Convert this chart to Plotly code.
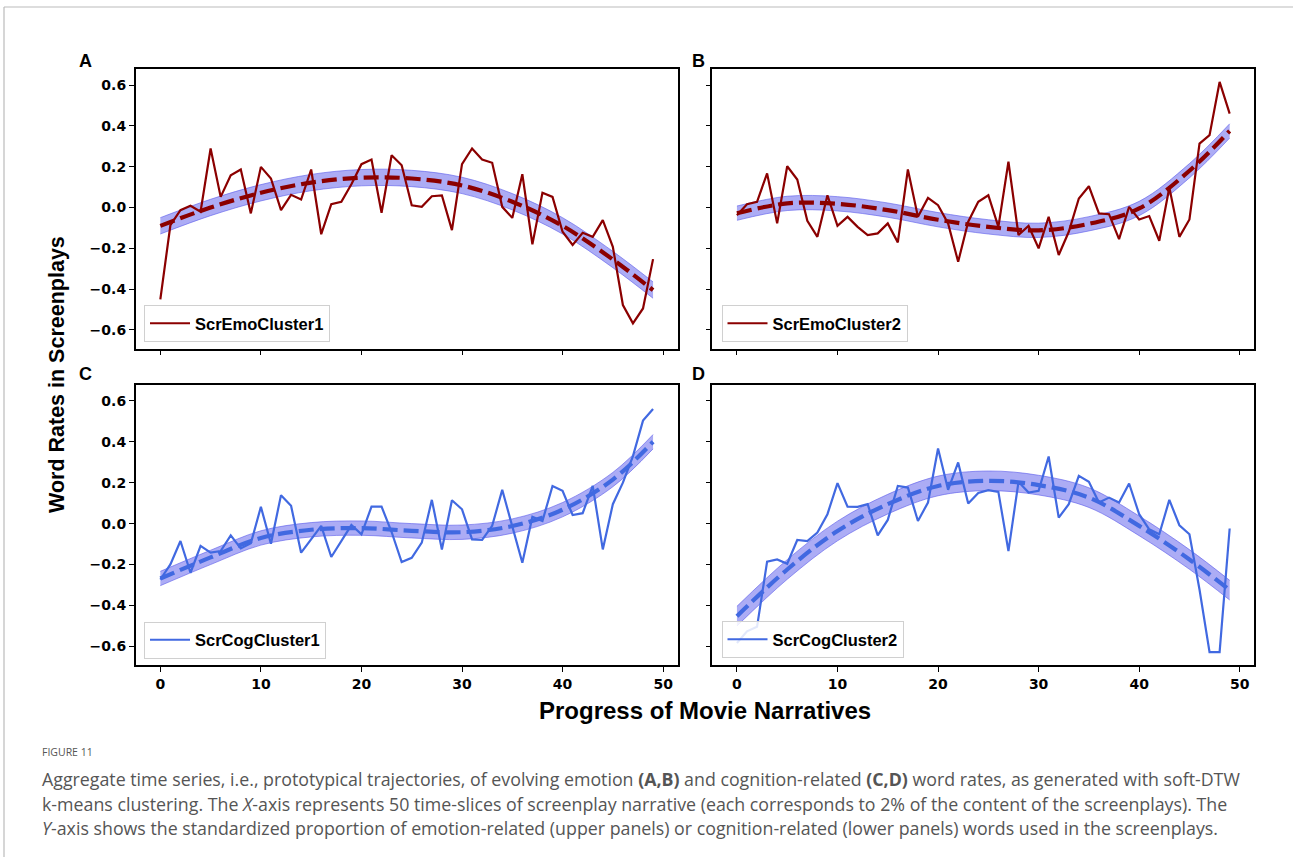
import plotly.graph_objects as go

W, H = 1293, 857

# ---------------- data ----------------
x_idx = list(range(50))
fit_x = [0, 5, 10, 15, 20, 25, 30, 35, 40, 45, 49]
x_ticks = [0, 10, 20, 30, 40, 50]
y_ticks = [-0.6, -0.4, -0.2, 0.0, 0.2, 0.4, 0.6]

emo1 = [-0.45, -0.087, -0.013, 0.008, -0.021, 0.289, 0.052, 0.158, 0.186, -0.029,
        0.199, 0.142, -0.013, 0.062, 0.039, 0.186, -0.131, 0.016, 0.028, 0.114,
        0.212, 0.235, -0.026, 0.256, 0.207, 0.011, 0.003, 0.055, 0.059, -0.111,
        0.212, 0.289, 0.235, 0.219, 0.003, -0.051, 0.163, -0.181, 0.072, 0.052,
        -0.119, -0.184, -0.124, -0.144, -0.062, -0.193, -0.478, -0.568, -0.495, -0.253]
emo1_fit = [-0.09, 0.0, 0.072, 0.122, 0.146, 0.142, 0.108, 0.028, -0.09, -0.255, -0.405]

emo2 = [-0.038, 0.016, 0.028, 0.167, -0.078, 0.202, 0.137, -0.065, -0.144, 0.060,
        -0.090, -0.046, -0.095, -0.135, -0.127, -0.078, -0.171, 0.186, -0.046, 0.047,
        0.011, -0.078, -0.266, -0.070, 0.028, 0.060, -0.095, 0.224, -0.135, -0.090,
        -0.200, -0.046, -0.233, -0.119, 0.044, 0.104, -0.029, -0.033, -0.155, 0.003,
        -0.059, -0.042, -0.163, 0.098, -0.144, -0.059, 0.313, 0.354, 0.615, 0.460]
emo2_fit = [-0.028, 0.02, 0.018, -0.013, -0.06, -0.095, -0.112, -0.08, -0.005, 0.18, 0.375]

cog1 = [-0.273, -0.199, -0.085, -0.240, -0.109, -0.142, -0.134, -0.057, -0.121, -0.096,
        0.082, -0.098, 0.139, 0.087, -0.142, -0.077, -0.011, -0.163, -0.085, -0.007,
        -0.052, 0.083, 0.083, -0.041, -0.188, -0.167, -0.093, 0.116, -0.126, 0.114,
        0.070, -0.077, -0.080, -0.011, 0.165, -0.011, -0.191, 0.033, 0.013, 0.184,
        0.160, 0.042, 0.051, 0.184, -0.126, 0.095, 0.200, 0.330, 0.503, 0.560]
cog1_fit = [-0.268, -0.165, -0.07, -0.03, -0.022, -0.035, -0.042, -0.012, 0.068, 0.215, 0.40]

cog2 = [-0.583, -0.526, -0.504, -0.186, -0.175, -0.196, -0.080, -0.085, -0.044, 0.046,
        0.198, 0.083, 0.082, 0.095, -0.057, 0.018, 0.184, 0.176, 0.013, 0.103,
        0.367, 0.165, 0.299, 0.098, 0.150, 0.163, 0.155, -0.134, 0.204, 0.152,
        0.160, 0.328, 0.029, 0.095, 0.233, 0.204, 0.103, 0.127, 0.103, 0.196,
        0.046, -0.028, -0.052, 0.116, -0.008, -0.052, -0.322, -0.628, -0.628, -0.024]
cog2_fit = [-0.452, -0.224, -0.036, 0.095, 0.184, 0.209, 0.188, 0.127, -0.011, -0.175, -0.325]

band_half = {"A": 0.04, "B": 0.035, "C": 0.035, "D": 0.048}
series_names = {"A": "ScrEmoCluster1", "B": "ScrEmoCluster2",
                "C": "ScrCogCluster1", "D": "ScrCogCluster2"}

RED = "#8b0000"
BLUE = "#4169e1"
BAND = "rgba(90,90,235,0.50)"
BAND_EDGE = "rgba(90,90,235,0.75)"

panels = [
    ("A", emo1, emo1_fit, RED, "", "legend"),
    ("B", emo2, emo2_fit, RED, "2", "legend2"),
    ("C", cog1, cog1_fit, BLUE, "3", "legend3"),
    ("D", cog2, cog2_fit, BLUE, "4", "legend4"),
]

fig = go.Figure()
for key, data, fit, color, sfx, leg in panels:
    xa, ya = "x" + sfx, "y" + sfx
    hw = band_half[key]
    lower = [v - hw for v in fit]
    upper = [v + hw for v in fit]
    fig.add_trace(go.Scatter(x=fit_x, y=lower, xaxis=xa, yaxis=ya, mode="lines",
                             line=dict(color=BAND_EDGE, width=0.8, shape="spline"),
                             showlegend=False, hoverinfo="skip"))
    fig.add_trace(go.Scatter(x=fit_x, y=upper, xaxis=xa, yaxis=ya, mode="lines",
                             line=dict(color=BAND_EDGE, width=0.8, shape="spline"),
                             fill="tonexty", fillcolor=BAND,
                             showlegend=False, hoverinfo="skip"))
    fig.add_trace(go.Scatter(x=x_idx, y=data, xaxis=xa, yaxis=ya, mode="lines",
                             line=dict(color=color, width=2.2),
                             name=series_names[key], legend=leg, showlegend=True))
    fig.add_trace(go.Scatter(x=fit_x, y=fit, xaxis=xa, yaxis=ya, mode="lines",
                             line=dict(color=color, width=4.2, dash="15px,6px", shape="spline"),
                             showlegend=False, hoverinfo="skip"))

# ---------------- layout ----------------
def px_x(p):
    return p / W

def px_y(p):
    return 1 - p / H

col_dom = {"L": [px_x(135.7), px_x(677.7)], "R": [px_x(712.3), px_x(1254.3)]}
row_dom = {"T": [px_y(348.7), px_y(69.3)], "B": [px_y(665.3), px_y(385.0)]}

tickfont = dict(family="DejaVu Sans, sans-serif", size=14, color="black", weight="bold")
axis_common = dict(showline=True, mirror=True, linecolor="black", linewidth=1.5,
                   ticks="outside", ticklen=5, tickwidth=1.2, tickcolor="black",
                   showgrid=False, zeroline=False, tickfont=tickfont)

layout_axes = {}
specs = [("", "L", "T", False, True), ("2", "R", "T", False, False),
         ("3", "L", "B", True, True), ("4", "R", "B", True, False)]
for sfx, c, r, xlab, ylab in specs:
    layout_axes["xaxis" + sfx] = dict(axis_common, domain=col_dom[c], anchor="y" + sfx,
                                      range=[-2.45, 51.45], tickvals=x_ticks,
                                      showticklabels=xlab)
    layout_axes["yaxis" + sfx] = dict(axis_common, domain=row_dom[r], anchor="x" + sfx,
                                      range=[-0.692, 0.677], tickvals=y_ticks,
                                      tickformat=".1f", showticklabels=ylab)

legend_style = dict(bgcolor="rgba(255,255,255,0.85)", bordercolor="#d0d0d0", borderwidth=1,
                    font=dict(family="Liberation Sans, Arial, sans-serif", size=16.5,
                              color="black", weight="bold"),
                    xanchor="left", yanchor="bottom", itemwidth=40,
                    tracegroupgap=0)
legends = {
    "legend": dict(legend_style, x=px_x(144), y=px_y(342)),
    "legend2": dict(legend_style, x=px_x(721.5), y=px_y(342)),
    "legend3": dict(legend_style, x=px_x(144), y=px_y(658.5)),
    "legend4": dict(legend_style, x=px_x(721.5), y=px_y(658)),
}

bold_font = dict(family="Liberation Sans, Arial, sans-serif", color="black", weight="bold")
ann_list = []
for txt, xx, yy in [("A", 85, 61), ("B", 698, 61), ("C", 85, 374), ("D", 698, 374)]:
    ann_list.append(dict(text=txt, x=px_x(xx), y=px_y(yy), xref="paper", yref="paper",
                         showarrow=False, xanchor="center", yanchor="middle",
                         font=dict(bold_font, size=18)))
ann_list.append(dict(text="Word Rates in Screenplays", x=px_x(57), y=px_y(375),
                     xref="paper", yref="paper", showarrow=False, textangle=-90,
                     xanchor="center", yanchor="middle", font=dict(bold_font, size=21.5)))
ann_list.append(dict(text="Progress of Movie Narratives", x=px_x(705), y=px_y(710),
                     xref="paper", yref="paper", showarrow=False,
                     xanchor="center", yanchor="middle", font=dict(bold_font, size=24)))

cap_font = dict(family="Open Sans, Noto Sans, sans-serif", color="#555555")
ann_list.append(dict(text="FIGURE 11", x=px_x(40), y=px_y(752), xref="paper", yref="paper",
                     showarrow=False, xanchor="left", yanchor="middle",
                     font=dict(cap_font, size=10.5)))
caption_lines = [
    "Aggregate time series, i.e., prototypical trajectories, of evolving emotion <b>(A,B)</b> and cognition-related <b>(C,D)</b> word rates, as generated with soft-DTW",
    "k-means clustering. The <i>X</i>-axis represents 50 time-slices of screenplay narrative (each corresponds to 2% of the content of the screenplays). The",
    "<i>Y</i>-axis shows the standardized proportion of emotion-related (upper panels) or cognition-related (lower panels) words used in the screenplays.",
]
for i, line in enumerate(caption_lines):
    ann_list.append(dict(text=line, x=px_x(40), y=px_y(779 + 24.5 * i), xref="paper", yref="paper",
                         showarrow=False, xanchor="left", yanchor="middle",
                         font=dict(cap_font, size=17.8)))

shapes = [
    dict(type="line", xref="paper", yref="paper", x0=px_x(4), x1=1.0, y0=px_y(7), y1=px_y(7),
         line=dict(color="#bbbbbb", width=1.2)),
    dict(type="line", xref="paper", yref="paper", x0=px_x(4), x1=px_x(4), y0=px_y(7), y1=0.0,
         line=dict(color="#bbbbbb", width=1.2)),
]

fig.update_layout(
    width=W, height=H, margin=dict(l=0, r=0, t=0, b=0),
    paper_bgcolor="white", plot_bgcolor="white",
    annotations=ann_list, shapes=shapes, **layout_axes, **legends,
)

fig.write_html("out.html")
